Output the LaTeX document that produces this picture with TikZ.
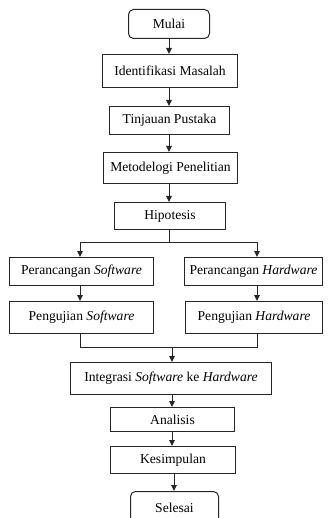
\documentclass[tikz,border=0pt]{standalone}
\usepackage{fontspec}
\setmainfont{Liberation Serif}
\usetikzlibrary{arrows.meta}
\begin{document}
\begin{tikzpicture}[x=1pt,y=-1pt,
  font=\fontsize{13.6}{15}\selectfont,
  box/.style={draw=black!85,line width=1pt,inner sep=0pt,anchor=north west},
  rbox/.style={box,rounded corners=5pt},
  arr/.style={line width=1pt,draw=black!85,-{Triangle[length=6pt,width=5.5pt]}},
  ln/.style={line width=1pt,draw=black!85}]
\useasboundingbox (0,0) rectangle (329,518);
\begin{scope}
\clip (0,0) rectangle (329,518);
\node[rbox,minimum width=81pt,minimum height=29pt] (mulai) at (128,9) {Mulai};
\node[box,minimum width=135pt,minimum height=33pt] (idm) at (102,54) {Identifikasi Masalah};
\node[box,minimum width=120pt,minimum height=28pt] (tp) at (109,106) {Tinjauan Pustaka};
\node[box,minimum width=134pt,minimum height=31pt] (mp) at (103,152) {Metodelogi Penelitian};
\node[box,minimum width=111pt,minimum height=27pt] (hip) at (114,202) {Hipotesis};
\node[box,minimum width=144pt,minimum height=28pt] (prs) at (9,257) {Perancangan \textit{Software}};
\node[box,minimum width=138pt,minimum height=28pt] (prh) at (184,257) {Perancangan \textit{Hardware}};
\node[box,minimum width=144pt,minimum height=32pt] (pgs) at (9,301) {Pengujian \textit{Software}};
\node[box,minimum width=137pt,minimum height=32pt] (pgh) at (185,301) {Pengujian \textit{Hardware}};
\node[box,minimum width=201pt,minimum height=32pt] (int) at (70,362) {Integrasi \textit{Software} ke \textit{Hardware}};
\node[box,minimum width=124pt,minimum height=24pt] (ana) at (110,407) {Analisis};
\node[box,minimum width=125pt,minimum height=27pt] (kes) at (110,446) {Kesimpulan};
\node[rbox,minimum width=88pt,minimum height=32pt] (sel) at (130,491) {Selesai};
\end{scope}
\coordinate (split) at (169,242);
\coordinate (merge) at (172,347);
\draw[arr] (169,38) -- (169,54);
\draw[arr] (idm.south -| 169,0) -- (tp.north -| 169,0);
\draw[arr] (tp.south -| 169,0) -- (mp.north -| 169,0);
\draw[arr] (mp.south -| 169,0) -- (hip.north -| 169,0);
\draw[ln] (hip.south -| split) -- (split);
\draw[ln] (80,242) -- (257,242);
\draw[arr] (80,242) -- (prs.north -| 80,0);
\draw[arr] (257,242) -- (prh.north -| 257,0);
\draw[arr] (prs.south -| 80,0) -- (pgs.north -| 80,0);
\draw[arr] (prh.south -| 257,0) -- (pgh.north -| 257,0);
\draw[ln] (pgs.south -| 80,0) |- (merge);
\draw[ln] (pgh.south -| 257,0) |- (merge);
\draw[arr] (merge) -- (int.north -| merge);
\draw[arr] (int.south -| 172,0) -- (ana.north -| 172,0);
\draw[arr] (ana.south -| 172,0) -- (kes.north -| 172,0);
\draw[arr] (kes.south -| 174,0) -- (sel.north -| 174,0);
\end{tikzpicture}
\end{document}
